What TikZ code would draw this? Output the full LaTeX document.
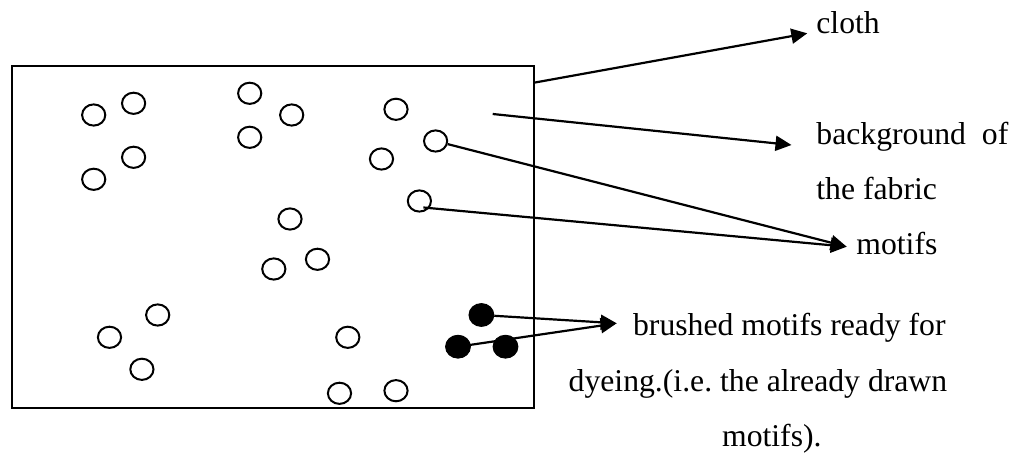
\documentclass[tikz,border=0pt]{standalone}
\usepackage{fontspec}
\setmainfont{Liberation Serif}
\usetikzlibrary{arrows.meta,shapes.geometric}
\frenchspacing
\tikzset{
  motif/.style={ellipse,draw,line width=1pt,inner sep=0pt,minimum width=11.6pt,minimum height=10.6pt},
  brushed/.style={ellipse,fill=black,draw=black,line width=0.5pt,inner sep=0pt,minimum width=12.4pt,minimum height=11.4pt},
  cloth/.style={draw,line width=1pt,inner sep=0pt},
  lbl/.style={anchor=base west,inner sep=0pt,font=\fontsize{15.85}{19}\selectfont},
  pointer/.style={line width=1.1pt,-{Triangle[length=8pt,width=7.5pt]}},
}
\begin{document}
\begin{tikzpicture}[x=0.5pt,y=-0.5pt]
\useasboundingbox (0,0) rectangle (1019,453);
% cloth rectangle
\node[cloth,minimum width=261pt,minimum height=171pt] (rect) at (273,237) {};
% open motifs
\node[motif] (c1) at (93.7,115) {};
\node[motif] (c2) at (133.6,103.3) {};
\node[motif] (c3) at (133.6,157.3) {};
\node[motif] (c4) at (93.7,179.3) {};
\node[motif] (c5) at (249.7,93.3) {};
\node[motif] (c6) at (291.7,115) {};
\node[motif] (c7) at (249.7,137.3) {};
\node[motif] (c8) at (396,109.3) {};
\node[motif] (c9) at (435.6,141) {};
\node[motif] (c10) at (381.5,159) {};
\node[motif] (c11) at (419.4,201) {};
\node[motif] (c12) at (290,219) {};
\node[motif] (c13) at (317.5,259.3) {};
\node[motif] (c14) at (273.8,269) {};
\node[motif] (c15) at (157.7,315) {};
\node[motif] (c16) at (109.5,337.3) {};
\node[motif] (c17) at (141.9,369.3) {};
\node[motif] (c18) at (347.8,337.3) {};
\node[motif] (c19) at (339.5,393.3) {};
\node[motif] (c20) at (396,390.7) {};
% brushed motifs
\node[brushed] (c21) at (481.4,315) {};
\node[brushed] (c22) at (458,346.7) {};
\node[brushed] (c23) at (505.5,346.7) {};
% labels
\node[lbl] (tcloth) at (816,33.3) {cloth};
\node[lbl] (tbg1) at (816,145) {background\ \ of};
\node[lbl] (tbg2) at (816,199.3) {the fabric};
\node[lbl] (tmotifs) at (856,255) {motifs};
\node[lbl] (tbr1) at (632.7,336) {brushed motifs ready for};
\node[lbl] (tbr2) at (568.3,391.7) {dyeing.(i.e. the already drawn};
\node[lbl] (tbr3) at (721.7,446.7) {motifs).};
% connector ends
\coordinate (clothstart) at (534,82.7);
\coordinate (clothtip) at (807.3,33.3);
\coordinate (bgstart) at (492.7,114);
\coordinate (bgtip) at (791.5,145);
\coordinate (motiftip) at (846.7,246.7);
\coordinate (brtip) at (616.7,323.3);
% connectors
\draw[pointer] (clothstart) -- (clothtip);
\draw[pointer] (bgstart) -- (bgtip);
\draw[pointer] (c9) -- (motiftip);
\draw[pointer] ([shift={(4,6.5)}]c11.center) -- (motiftip);
\draw[pointer] (c21) -- (brtip);
\draw[pointer] (c22.center) -- (brtip);
\end{tikzpicture}
\end{document}
